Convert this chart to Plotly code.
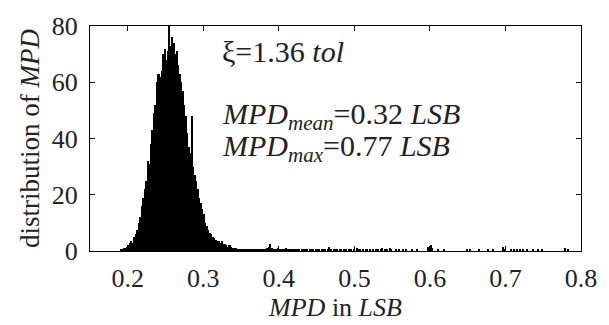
import plotly.graph_objects as go

bin_width = 0.002
main_start = 0.191
main_counts = [0.5, 0.8, 1, 1.2, 1.5, 2, 3, 3.5, 3, 5, 6, 7.5, 10, 12, 16, 19, 22, 25, 32, 31,
               38, 43, 49, 52, 60, 63, 62, 64, 70, 72, 68, 71, 80, 73, 76, 74, 70, 71, 66, 63,
               60, 57, 52, 48, 42, 37, 35, 48, 30, 27, 25, 22, 19, 17, 15, 13, 10, 9, 7.5, 6.5,
               6, 5, 4.5, 4, 3.5, 3.5, 3, 3.5, 2.5, 2.5, 2, 1.5, 2, 1.5, 1]

tail_x = [0.341, 0.343, 0.345, 0.347, 0.349, 0.351, 0.353, 0.355, 0.357, 0.359, 0.361, 0.363, 0.365,
          0.367, 0.369, 0.371, 0.373, 0.375, 0.377, 0.379, 0.381, 0.383, 0.385, 0.387, 0.389, 0.391,
          0.393, 0.395, 0.397, 0.399, 0.401, 0.403, 0.405, 0.407, 0.409, 0.411, 0.413, 0.415, 0.417,
          0.419, 0.421, 0.423, 0.425, 0.427, 0.431, 0.433, 0.435, 0.437, 0.441, 0.443, 0.445, 0.449,
          0.451, 0.453, 0.457, 0.459, 0.461, 0.465, 0.467, 0.469, 0.473, 0.475, 0.477, 0.481, 0.483,
          0.487, 0.489, 0.493, 0.495, 0.499, 0.503, 0.505, 0.507, 0.511, 0.515, 0.517, 0.521, 0.525,
          0.529, 0.531, 0.535, 0.537, 0.541, 0.543, 0.547, 0.549, 0.555, 0.559, 0.565, 0.569, 0.577,
          0.583, 0.597, 0.601, 0.603, 0.611, 0.619, 0.649, 0.653, 0.665, 0.677, 0.683, 0.697, 0.699,
          0.707, 0.711, 0.715, 0.719, 0.723, 0.729, 0.737, 0.743, 0.749, 0.779, 0.783]
tail_h = [1.2, 1, 0.8, 0.8, 0.7, 0.8, 0.6, 0.7, 0.6, 0.8, 0.6, 0.7, 0.5,
          0.6, 0.7, 0.5, 0.6, 0.8, 0.6, 0.5, 0.7, 0.6, 0.9, 1.5, 2.5, 1,
          0.6, 0.8, 0.5, 1.2, 0.6, 0.8, 0.5, 0.7, 0.9, 0.5, 0.6, 0.5, 0.7,
          0.6, 0.5, 0.8, 0.5, 0.6, 0.7, 0.5, 0.6, 0.8, 0.5, 0.6, 0.6, 0.7,
          0.5, 0.8, 0.6, 0.7, 0.5, 0.6, 1.5, 0.6, 0.5, 0.7, 0.5, 0.8, 0.6,
          0.7, 0.5, 0.6, 0.7, 0.5, 1.2, 0.6, 0.5, 0.8, 0.5, 0.6, 0.5, 0.6,
          0.5, 0.6, 0.5, 0.9, 0.7, 0.6, 0.9, 0.7, 0.7, 0.6, 0.8, 0.6, 0.7,
          0.6, 1.5, 2.2, 1.2, 0.8, 0.7, 0.6, 0.8, 0.6, 0.7, 0.6, 1.6, 0.8,
          0.7, 0.6, 0.8, 0.7, 0.6, 0.8, 0.6, 0.7, 0.6, 0.9, 0.7]

x_ticks = [0.2, 0.3, 0.4, 0.5, 0.6, 0.7, 0.8]
y_ticks = [0, 20, 40, 60, 80]

main_x = [round(main_start + i * bin_width, 4) for i in range(len(main_counts))]

FONT = "Liberation Serif, Times New Roman, serif"
TXT = "#222"

fig = go.Figure()
fig.add_trace(go.Bar(x=main_x, y=main_counts, width=bin_width,
                     marker=dict(color="black", line=dict(width=0)), showlegend=False))
fig.add_trace(go.Bar(x=tail_x, y=tail_h, width=bin_width * 0.8,
                     marker=dict(color="black", line=dict(width=0)), showlegend=False))

axis_common = dict(showline=True, linecolor="black", linewidth=1, mirror="ticks",
                   ticks="inside", ticklen=5, tickcolor="black", showgrid=False,
                   zeroline=False, tickfont=dict(family=FONT, size=26, color=TXT))

fig.update_layout(
    width=609, height=325, margin=dict(l=90, r=25, t=16, b=74),
    paper_bgcolor="white", plot_bgcolor="white", bargap=0, barmode="overlay",
    xaxis=dict(range=[0.15, 0.8], tickvals=x_ticks, ticktext=[str(v) for v in x_ticks],
               ticklabelstandoff=4,
               title=dict(text="<i>MPD</i> in <i>LSB</i>", font=dict(family=FONT, size=26, color=TXT),
                          standoff=0), **axis_common),
    yaxis=dict(range=[0, 80], tickvals=y_ticks, ticklabelstandoff=6,
               title=dict(text="distribution of <i>MPD</i>", font=dict(family=FONT, size=27, color=TXT),
                          standoff=4), **axis_common),
    font=dict(family=FONT, color=TXT),
)

ann_font = dict(family=FONT, size=30, color=TXT)
fig.add_annotation(x=0.322, y=71, xref="x", yref="y", xanchor="left", yanchor="middle",
                   text="ξ=1.36 <i>tol</i>", showarrow=False, font=ann_font)
fig.add_annotation(x=0.322, y=48, xref="x", yref="y", xanchor="left", yanchor="middle",
                   text="<i>MPD<sub>mean</sub></i>=0.32 <i>LSB</i>", showarrow=False, font=ann_font)
fig.add_annotation(x=0.322, y=36.5, xref="x", yref="y", xanchor="left", yanchor="middle",
                   text="<i>MPD<sub>max</sub></i>=0.77 <i>LSB</i>", showarrow=False, font=ann_font)

fig.write_html("out.html")
